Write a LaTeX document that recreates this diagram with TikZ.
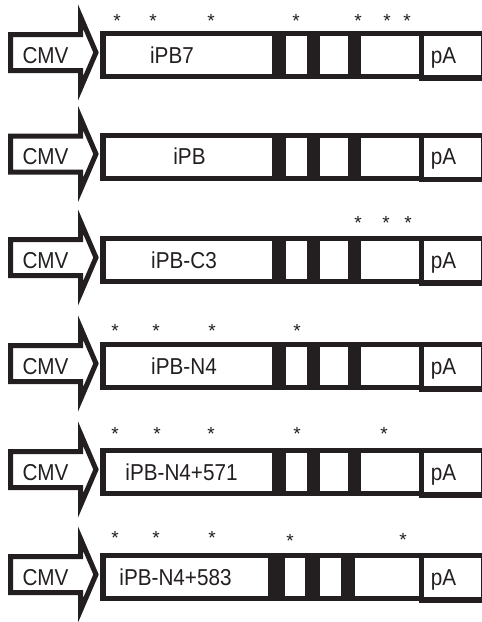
\documentclass[tikz,border=0pt]{standalone}
\usepackage{fontspec}
\setmainfont{Liberation Sans}
\definecolor{inkc}{HTML}{231F20}

% One expression construct: CMV promoter arrow, coding block with cells, pA box.
% #1 tag, #2 centre line, #3 insert name, #4 x of insert name, #5 list of white cells
\newcommand\construct[5]{%
  \draw[promoter] (10.5,#2-20.5) -- (80.5,#2-20.5) -- (80.5,#2-38.5) -- (96,#2-2.5)
    -- (80.5,#2+33.5) -- (80.5,#2+15.5) -- (10.5,#2+15.5) -- cycle;
  \fill[inkc] (100,#2-24) rectangle (488,#2+24);
  \fill[inkc] (419,#2-24) rectangle (488,#2+25.5);
  \foreach \cl/\cr in {#5} {\fill[white] (\cl,#2-19) rectangle (\cr,#2+19);}
  \fill[white] (424,#2-19) rectangle (481,#2+20);
  \node[lbl] (cmv#1) at (45.5,#2+8.3) {CMV};
  \node[lbl] (gene#1) at (#4,#2+8.3) {#3};
  \node[lbl] (pa#1) at (443.5,#2+8.3) {pA};
}
% Mutation marks above a construct: list of x/y centres
\newcommand\mutmarks[2]{%
  \foreach \sx/\sy [count=\k] in {#2} {\node[astk] (st#1-\k) at (\sx,\sy+11) {*};}
}

\begin{document}
\begin{tikzpicture}[x=1pt,y=-1pt,
  promoter/.style={draw=inkc, fill=white, line width=5pt, line join=miter},
  lbl/.style={font=\fontsize{23}{23}\selectfont, text=inkc, anchor=base, inner sep=0pt, xscale=0.9},
  astk/.style={font=\fontsize{19}{19}\selectfont, text=inkc, anchor=base, inner sep=0pt}]
\useasboundingbox (0,0) rectangle (482,622);

\construct{1}{55}{iPB7}{172}{106/272,286/307,320/348,361/419}
\mutmarks{1}{117/16,153/16,211/16,296/16,358/16,387/16,407/16}

\construct{2}{156.5}{iPB}{189.5}{106/272,286/307,320/348,361/419}

\construct{3}{260}{iPB-C3}{184}{106/272,286/307,320/348,361/419}
\mutmarks{3}{358/218,386/218,408/218}

\construct{4}{366}{iPB-N4}{184}{106/272,286/307,320/348,361/419}
\mutmarks{4}{115/326,156/326,212/326,297/326}

\construct{5}{472}{iPB-N4+571}{181.5}{106/272,286/307,320/348,361/419}
\mutmarks{5}{115/429,157/429,211/429,297/429,384/429}

\construct{6}{577}{iPB-N4+583}{175.5}{106/268,285/305,320/341,355/419}
\mutmarks{6}{115/533,156/533,212/533,290/536,403/535}
\end{tikzpicture}
\end{document}
